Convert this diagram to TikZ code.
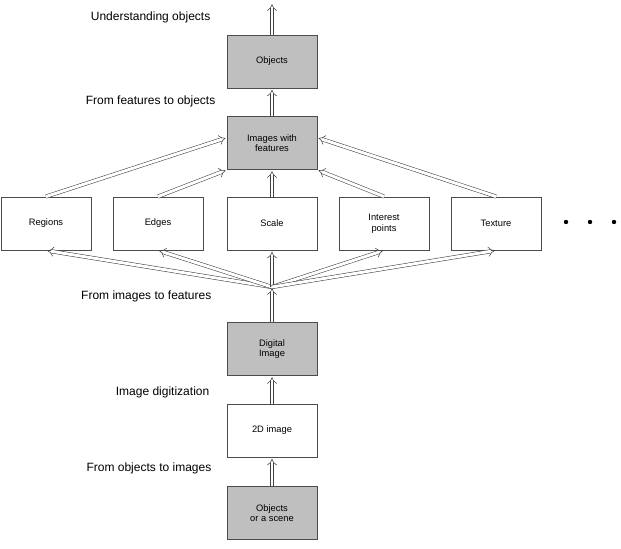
\documentclass[tikz,border=0pt]{standalone}
\usepackage{fontspec}
\setmainfont{Liberation Sans}
\usetikzlibrary{arrows.meta}
\begin{document}
\begin{tikzpicture}[
		x=0.75pt,y=-0.75pt,
		box/.style={draw=black!70,fill=white,minimum width=67.5pt,minimum height=40pt,align=center,font=\scriptsize,inner sep=1pt},
		gbox/.style={box,fill=black!25},
		lbl/.style={anchor=east,font=\small},
		flow/.style={double=white,double distance=2.2pt,draw=black!75,-{Implies},shorten >=1pt}
	]
		\useasboundingbox (0,0) rectangle (621,549);

		%boxes
		\node[gbox] (obj) at (272,61.5) {Objects};
		\node[gbox] (feat) at (272,143) {Images with\\features};
		\node[box] (reg) at (46,223.5) {Regions};
		\node[box] (edge) at (158,223.5) {Edges};
		\node[box] (scale) at (272,223.5) {Scale};
		\node[box] (ipt) at (384,223.5) {Interest\\points};
		\node[box] (tex) at (496,223.5) {Texture};
		\node[gbox] (dig) at (272,349) {Digital\\Image};
		\node[box] (img) at (272,430.5) {2D image};
		\node[gbox] (scene) at (272,513) {Objects\\or a scene};

		%dots
		\foreach \x in {566,590,614}
			\fill (\x,222) circle(2.2);

		%labels
		\node[lbl] (l1) at (215,17) {Understanding objects};
		\node[lbl] (l2) at (220,101) {From features to objects};
		\node[lbl] (l3) at (216,296) {From images to features};
		\node[lbl] (l4) at (214,392) {Image digitization};
		\node[lbl] (l5) at (216,468) {From objects to images};

		%flows
		\coordinate (top) at (272,3);
		\coordinate (hub) at (272,287);
		\draw[flow] (scene) -- (img);
		\draw[flow] (img) -- (dig);
		\draw[flow] (dig) -- (hub);
		\draw[flow] (hub) -- (reg.south);
		\draw[flow] (hub) -- (edge.south);
		\draw[flow] (hub) -- (scale);
		\draw[flow] (hub) -- (ipt.south);
		\draw[flow] (hub) -- (tex.south);
		\draw[flow] (reg.north) -- ([yshift=4]feat.west);
		\draw[flow] (edge.north) -- (feat.south west);
		\draw[flow] (scale) -- (feat);
		\draw[flow] (ipt.north) -- (feat.south east);
		\draw[flow] (tex.north) -- ([yshift=4]feat.east);
		\draw[flow] (feat) -- (obj);
		\draw[flow] (obj) -- (top);
\end{tikzpicture}
\end{document}
